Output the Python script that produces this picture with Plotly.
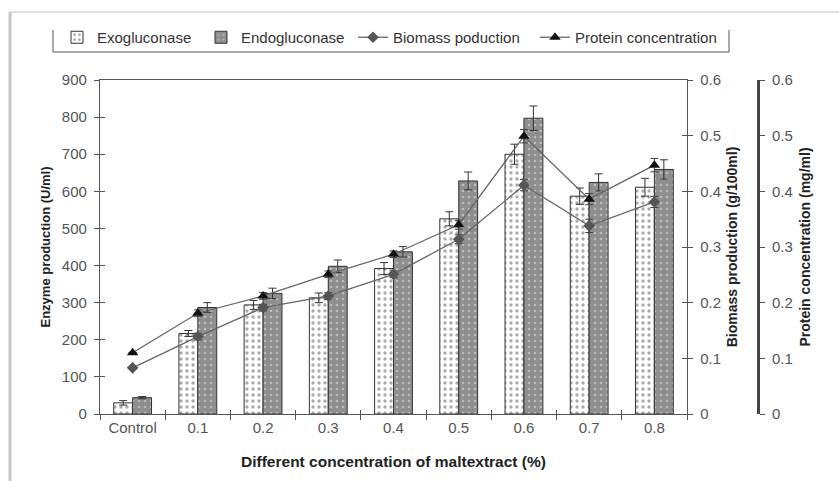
import plotly.graph_objects as go

categories = ["Control", "0.1", "0.2", "0.3", "0.4", "0.5", "0.6", "0.7", "0.8"]
exo = [30, 217, 294, 313, 392, 526, 700, 587, 611]
exo_err = [6, 8, 12, 13, 16, 19, 27, 22, 24]
endo = [44, 287, 325, 398, 437, 628, 797, 624, 659]
endo_err = [3, 13, 14, 17, 14, 24, 33, 23, 26]
biomass = [0.083, 0.139, 0.191, 0.212, 0.251, 0.314, 0.411, 0.338, 0.381]
biomass_err = [0.0, 0.006, 0.006, 0.006, 0.006, 0.008, 0.010, 0.012, 0.010]
protein = [0.110, 0.181, 0.212, 0.251, 0.287, 0.340, 0.499, 0.386, 0.447]
protein_err = [0.0, 0.006, 0.006, 0.006, 0.006, 0.008, 0.012, 0.010, 0.012]

FONT = "Liberation Sans, Arial, sans-serif"
TICKC = "#555555"
LINEC = "#555555"

L, R, T, B = 100, 60, 80, 67
W, H = 839, 481
pw = W - L - R
ph = H - T - B
def px(x):
    return (x - L) / pw
def py(y):
    return 1 - (y - T) / ph

fig = go.Figure()

fig.add_trace(go.Bar(
    x=categories, y=exo, name="Exogluconase", legend="legend",
    marker=dict(color="white", line=dict(color="#333333", width=1),
                pattern=dict(shape=".", fgcolor="#555555", bgcolor="white", size=6, solidity=0.25)),
    error_y=dict(type="data", array=exo_err, color="#333333", thickness=1, width=4),
))
fig.add_trace(go.Bar(
    x=categories, y=endo, name="Endogluconase", legend="legend2",
    marker=dict(color="#8e8e8e", line=dict(color="#333333", width=1),
                pattern=dict(shape=".", fgcolor="#e8e8e8", bgcolor="#8e8e8e", size=6, solidity=0.15)),
    error_y=dict(type="data", array=endo_err, color="#333333", thickness=1, width=4),
))
fig.add_trace(go.Scatter(
    x=categories, y=biomass, name="Biomass poduction", yaxis="y2", legend="legend3",
    mode="lines+markers",
    line=dict(color="#666666", width=1.3),
    marker=dict(symbol="diamond", size=9, color="#555555"),
    error_y=dict(type="data", array=biomass_err, color="#444444", thickness=1, width=4),
))
fig.add_trace(go.Scatter(
    x=categories, y=protein, name="Protein concentration", yaxis="y3", legend="legend4",
    mode="lines+markers",
    line=dict(color="#666666", width=1.3),
    marker=dict(symbol="triangle-up", size=10, color="#111111"),
    error_y=dict(type="data", array=protein_err, color="#444444", thickness=1, width=4),
))
# invisible helper traces so the cross-tick overlay axes are drawn
for xa, ya, yy in [("x2", "y4", exo), ("x", "y5", biomass)]:
    fig.add_trace(go.Scatter(x=categories, y=yy, xaxis=xa, yaxis=ya, mode="markers",
                             marker=dict(opacity=0), showlegend=False, hoverinfo="skip"))

xd = [0, px(687)]
tickfont = dict(family=FONT, size=15, color=TICKC)
titlefont = dict(family=FONT, size=13, color="#222222", weight="bold")
rtitlefont = dict(family=FONT, size=14, color="#222222", weight="bold")
xtitlefont = dict(family=FONT, size=15.5, color="#222222", weight="bold")

def leg(x_text):
    return dict(orientation="h", x=px(x_text - 40), y=py(21), xanchor="left", yanchor="top",
                font=dict(family=FONT, size=15, color="#333333"),
                bgcolor="rgba(0,0,0,0)", itemwidth=30)

fig.update_layout(
    width=W, height=H,
    margin=dict(l=L, r=R, t=T, b=B),
    paper_bgcolor="white", plot_bgcolor="white",
    barmode="group", bargap=0.42, bargroupgap=0,
    font=dict(family=FONT),
    showlegend=True,
    legend=leg(97), legend2=leg(241), legend3=leg(393), legend4=leg(575),
    xaxis=dict(domain=xd, type="category", categoryorder="array", categoryarray=categories,
               range=[-0.5, 8.5], tickson="boundaries", ticks="outside", ticklen=5,
               tickcolor=LINEC, showline=True, linecolor=LINEC, linewidth=1.3, mirror=True,
               tickfont=tickfont, showgrid=False, zeroline=False,
               title=dict(text="Different concentration of maltextract (%)", font=xtitlefont, standoff=20)),
    xaxis2=dict(domain=xd, overlaying="x", anchor="y", type="category", categoryorder="array",
                categoryarray=categories, range=[-0.5, 8.5], tickson="boundaries", ticks="inside",
                ticklen=4, tickcolor=LINEC, showticklabels=False, showline=False, showgrid=False,
                zeroline=False),
    yaxis=dict(range=[0, 900], dtick=100, ticks="outside", ticklen=5, tickcolor=LINEC,
               showline=True, linecolor=LINEC, linewidth=1.3, showgrid=False, zeroline=False,
               tickfont=tickfont, ticklabelstandoff=4,
               title=dict(text="Enzyme production (U/ml)", font=titlefont, standoff=8)),
    yaxis2=dict(range=[0, 0.6], dtick=0.1, overlaying="y", side="right", anchor="x",
                ticks="outside", ticklen=5, tickcolor=LINEC, showline=True, linecolor=LINEC,
                linewidth=1.3, showgrid=False, zeroline=False, tickfont=tickfont,
                tickformat="~g", ticklabelstandoff=4,
                title=dict(text="Biomass production (g/100ml)", font=rtitlefont, standoff=7)),
    yaxis3=dict(range=[0, 0.6], dtick=0.1, overlaying="y", side="right", anchor="free",
                position=px(759), ticks="outside", ticklen=5, tickcolor=LINEC, showline=True,
                linecolor="#444444", linewidth=2, showgrid=False, zeroline=False, tickfont=tickfont,
                tickformat="~g", ticklabelstandoff=4,
                title=dict(text="Protein concentration (mg/ml)", font=rtitlefont, standoff=7)),
    yaxis4=dict(range=[0, 900], dtick=100, overlaying="y", side="left", anchor="x2",
                ticks="inside", ticklen=5, tickcolor=LINEC, showticklabels=False,
                showline=False, showgrid=False, zeroline=False),
    yaxis5=dict(range=[0, 0.6], dtick=0.1, overlaying="y", side="right", anchor="x",
                ticks="inside", ticklen=5, tickcolor=LINEC, showticklabels=False,
                showline=False, showgrid=False, zeroline=False),
    shapes=[
        # protein axis line (with cross ticks to the left)
        dict(type="line", xref="paper", yref="paper", x0=px(758), x1=px(758), y0=0, y1=1,
             layer="above", line=dict(color="#444444", width=2)),
        # legend frame (left, bottom, right; no top)
        dict(type="line", xref="paper", yref="paper", x0=px(53), x1=px(53), y0=py(30), y1=py(52),
             line=dict(color="#555555", width=1)),
        dict(type="line", xref="paper", yref="paper", x0=px(53), x1=px(729), y0=py(52), y1=py(52),
             line=dict(color="#555555", width=1)),
        dict(type="line", xref="paper", yref="paper", x0=px(729), x1=px(729), y0=py(30), y1=py(52),
             line=dict(color="#555555", width=1)),
        # picture border
        dict(type="line", xref="paper", yref="paper", x0=px(10), x1=px(839), y0=py(12), y1=py(12),
             line=dict(color="#dddddd", width=2)),
        dict(type="line", xref="paper", yref="paper", x0=px(10), x1=px(10), y0=py(12), y1=py(481),
             line=dict(color="#c8c8c8", width=3)),
    ],
)

fig.write_html("out.html")
